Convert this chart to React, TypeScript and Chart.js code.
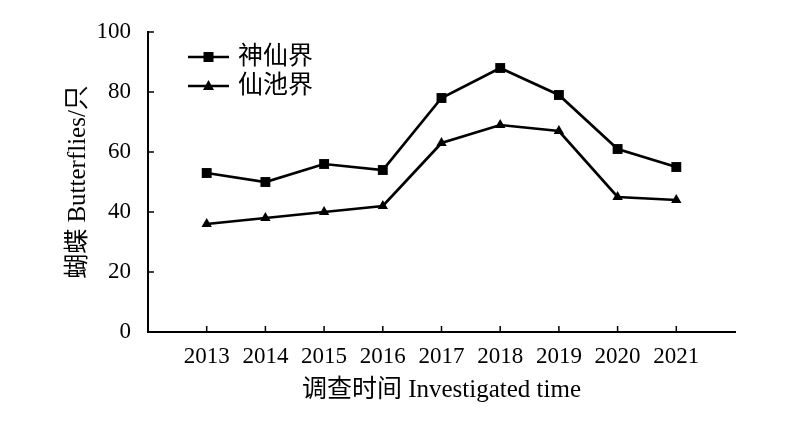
import React, { useEffect, useRef } from 'react';
import { Chart, registerables } from 'chart.js';

Chart.register(...registerables);

const years = [2013, 2014, 2015, 2016, 2017, 2018, 2019, 2020, 2021];
const shenxianjie = [53, 50, 56, 54, 78, 88, 79, 61, 55];
const xianchijie = [36, 38, 40, 42, 63, 69, 67, 45, 44];
const seriesNames = ['神仙界', '仙池界'];
const yTicks = [0, 20, 40, 60, 80, 100];
const xTitle = '调查时间 Investigated time';
const yTitle = '蝴蝶 Butterflies/只';

const FONT = '"Liberation Serif", "Noto Sans CJK SC", serif';

const inwardTicks = {
  id: 'inwardTicks',
  afterDatasetsDraw(chart: any) {
    const { ctx, chartArea, scales } = chart;
    ctx.save();
    ctx.strokeStyle = '#000';
    ctx.lineWidth = 1.5;
    ctx.beginPath();
    years.forEach((yr) => {
      const px = scales.x.getPixelForValue(yr);
      ctx.moveTo(px, chartArea.bottom);
      ctx.lineTo(px, chartArea.bottom - 6);
    });
    yTicks.forEach((v) => {
      const py = scales.y.getPixelForValue(v);
      ctx.moveTo(chartArea.left, py);
      ctx.lineTo(chartArea.left + 6, py);
    });
    ctx.stroke();
    ctx.restore();
  },
};

const lineLegend = {
  id: 'lineLegend',
  afterDraw(chart: any) {
    const { ctx, chartArea } = chart;
    ctx.save();
    chart.data.datasets.forEach((ds: any, i: number) => {
      const y = chartArea.top + 25 + i * 29;
      const x0 = chartArea.left + 40;
      const x1 = chartArea.left + 81;
      const cx = (x0 + x1) / 2;
      ctx.strokeStyle = '#000';
      ctx.lineWidth = 2.5;
      ctx.beginPath();
      ctx.moveTo(x0, y);
      ctx.lineTo(x1, y);
      ctx.stroke();
      ctx.fillStyle = '#000';
      ctx.beginPath();
      if (ds.pointStyle === 'rect') {
        ctx.rect(cx - 5, y - 5, 10, 10);
      } else {
        ctx.moveTo(cx, y - 6);
        ctx.lineTo(cx + 5.5, y + 4);
        ctx.lineTo(cx - 5.5, y + 4);
        ctx.closePath();
      }
      ctx.fill();
      ctx.font = '25px ' + FONT;
      ctx.textBaseline = 'middle';
      ctx.textAlign = 'left';
      ctx.fillText(ds.label, x1 + 9, y);
    });
    ctx.restore();
  },
};

export default function App() {
  const ref = useRef<HTMLCanvasElement>(null);

  useEffect(() => {
    if (!ref.current) return;
    const mk = (vals: number[]) => years.map((x, i) => ({ x, y: vals[i] }));
    const chart = new Chart(ref.current, {
      type: 'line',
      data: {
        datasets: [
          {
            label: seriesNames[0],
            data: mk(shenxianjie),
            borderColor: '#000',
            backgroundColor: '#000',
            borderWidth: 2.7,
            pointStyle: 'rect',
            pointRadius: 7,
            pointBackgroundColor: '#000',
            pointBorderColor: '#000',
            pointBorderWidth: 0,
            tension: 0,
          },
          {
            label: seriesNames[1],
            data: mk(xianchijie),
            borderColor: '#000',
            backgroundColor: '#000',
            borderWidth: 2.7,
            pointStyle: 'triangle',
            pointRadius: 6,
            pointBackgroundColor: '#000',
            pointBorderColor: '#000',
            pointBorderWidth: 0,
            tension: 0,
          },
        ],
      },
      options: {
        responsive: false,
        animation: false,
        layout: { padding: { top: 32, right: 65, left: 0, bottom: 0 } },
        plugins: {
          legend: { display: false },
          tooltip: { enabled: false },
        },
        scales: {
          x: {
            type: 'linear',
            min: 2012,
            max: 2022,
            afterBuildTicks: (axis: any) => {
              axis.ticks = years.map((v) => ({ value: v }));
            },
            afterFit: (s: any) => {
              s.height = 91;
            },
            grid: { display: false, drawTicks: false },
            border: { display: true, color: '#000', width: 2 },
            ticks: {
              color: '#000',
              font: { family: FONT, size: 23 },
              padding: 11,
              maxRotation: 0,
              autoSkip: false,
              callback: (v: any) => String(v),
            },
            title: {
              display: true,
              text: xTitle,
              color: '#000',
              font: { family: FONT, size: 25 },
              padding: { top: 0, bottom: 18 },
            },
          },
          y: {
            min: 0,
            max: 100,
            afterBuildTicks: (axis: any) => {
              axis.ticks = yTicks.map((v) => ({ value: v }));
            },
            afterFit: (s: any) => {
              s.width = 148;
            },
            grid: { display: false, drawTicks: false },
            border: { display: true, color: '#000', width: 2 },
            ticks: {
              color: '#000',
              font: { family: FONT, size: 23 },
              padding: 17,
              callback: (v: any) => String(v),
            },
            title: {
              display: true,
              text: yTitle,
              color: '#000',
              font: { family: FONT, size: 25 },
              padding: { top: 63, bottom: 0 },
            },
          },
        },
      },
      plugins: [inwardTicks, lineLegend],
    });
    return () => chart.destroy();
  }, []);

  return (
    <div style={{ position: 'fixed', left: 0, top: 0, width: 800, height: 423, background: '#fff' }}>
      <canvas ref={ref} width={800} height={423} style={{ display: 'block' }} />
    </div>
  );
}
